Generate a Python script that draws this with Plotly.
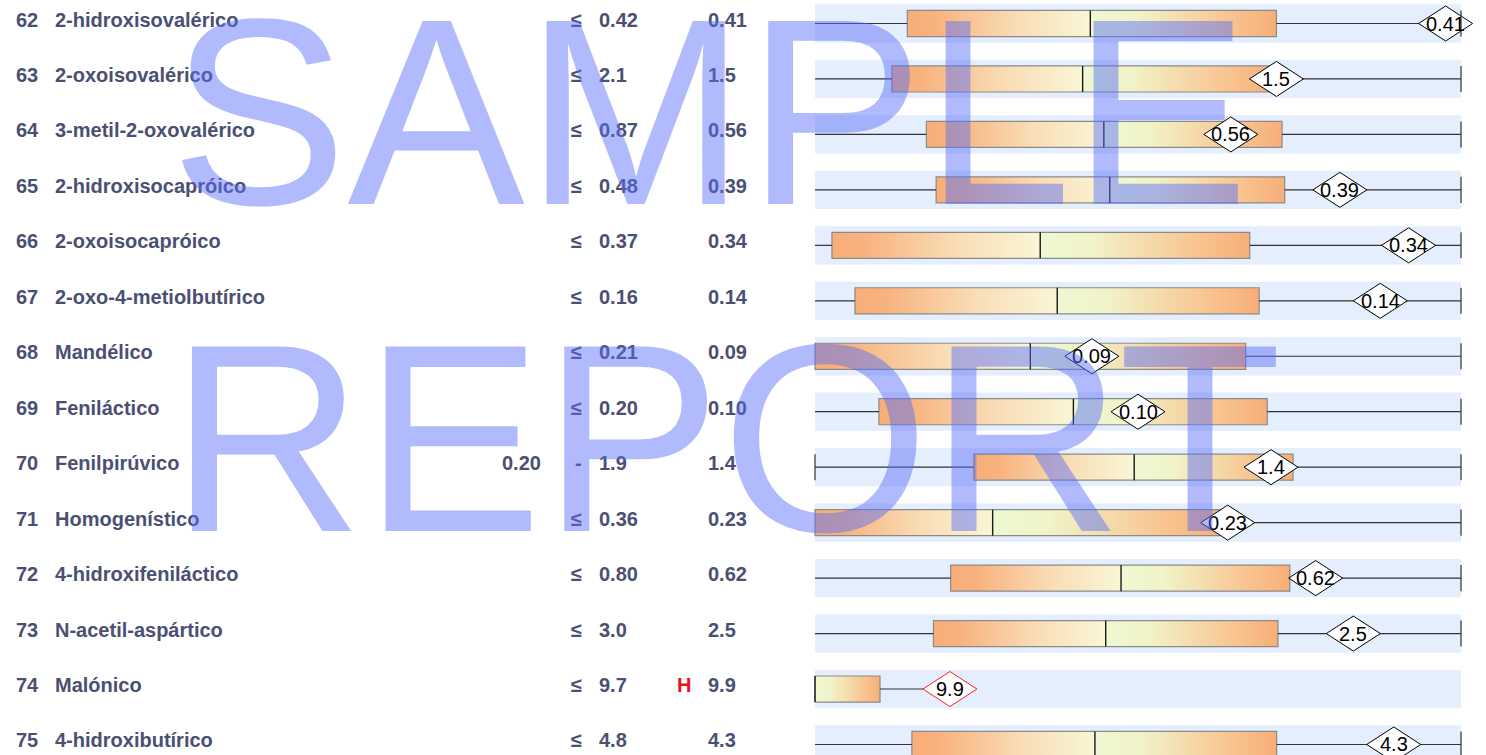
import plotly.graph_objects as go

# ---------------- data ----------------
nums = [62, 63, 64, 65, 66, 67, 68, 69, 70, 71, 72, 73, 74, 75]
names = ["2-hidroxisovalérico", "2-oxoisovalérico", "3-metil-2-oxovalérico",
         "2-hidroxisocapróico", "2-oxoisocapróico", "2-oxo-4-metiolbutírico",
         "Mandélico", "Feniláctico", "Fenilpirúvico", "Homogenístico",
         "4-hidroxifeniláctico", "N-acetil-aspártico", "Malónico", "4-hidroxibutírico"]
ref_low_txt = ["", "", "", "", "", "", "", "", "0.20", "", "", "", "", ""]
ref_high_txt = ["0.42", "2.1", "0.87", "0.48", "0.37", "0.16", "0.21", "0.20",
                "1.9", "0.36", "0.80", "3.0", "9.7", "4.8"]
ref_high = [0.42, 2.1, 0.87, 0.48, 0.37, 0.16, 0.21, 0.20, 1.9, 0.36, 0.80, 3.0, 9.7, 4.8]
flags = ["", "", "", "", "", "", "", "", "", "", "", "", "H", ""]
value_txt = ["0.41", "1.5", "0.56", "0.39", "0.34", "0.14", "0.09", "0.10",
             "1.4", "0.23", "0.62", "2.5", "9.9", "4.3"]
values = [0.41, 1.5, 0.56, 0.39, 0.34, 0.14, 0.09, 0.10, 1.4, 0.23, 0.62, 2.5, 9.9, 4.3]

# population distribution (box = q1..q3, whiskers)
q1 = [0.060, 0.25, 0.150, 0.090, 0.0097, 0.0099, 0.0, 0.0198, 0.618, 0.0, 0.168, 0.55, 3.3, 0.72]
med = [0.179, 0.87, 0.389, 0.219, 0.129, 0.060, 0.070, 0.080, 1.04, 0.099, 0.379, 1.35, 3.3, 2.08]
q3 = [0.300, 1.50, 0.629, 0.349, 0.249, 0.110, 0.140, 0.140, 1.458, 0.227, 0.588, 2.15, 6.48, 3.43]
w_lo = [0, 0, 0, 0, 0, 0, 0, 0, 0.20, 0, 0, 0, 3.3, 0]
w_hi = [0.42, 2.1, 0.87, 0.48, 0.37, 0.16, 0.21, 0.20, 1.9, 0.36, 0.80, 3.0, 9.7, 4.8]

# per-row scale (left edge / right edge of the graphic)
scale_lo = [0, 0, 0, 0, 0, 0, 0, 0, 0.20, 0, 0, 0, 3.3, 0]
scale_hi = [0.42, 2.1, 0.87, 0.48, 0.37, 0.16, 0.21, 0.20, 1.9, 0.36, 0.80, 3.0, 34.9, 4.8]

# ---------------- style ----------------
W, H = 1486, 755
PX0, PX1 = 815, 1461            # graphic left / right (px)
ROW0, ROWH = 23.5, 55.46        # first row centre / row pitch (px)
TXT = "#4B5073"
BAND = "#E4EEFC"
ORANGE = "#F8AE78"
BAND_H = 0.345
BOX_H = 0.235
DIA_W = 27 / (PX1 - PX0)        # half width in scale units
DIA_H = 17.5 / ROWH             # half height in rows
WHISK = dict(color="#333333", width=1.2)

left_cs = [[0, ORANGE], [0.15, "#F8B27E"], [0.6, "#F9DDB6"], [1, "#F9F6D6"]]
right_cs = [[0, "#EEF8D2"], [0.25, "#F1F3C8"], [0.75, "#F8C490"], [1, ORANGE]]


def pos(i, v):
    return (v - scale_lo[i]) / (scale_hi[i] - scale_lo[i])


fig = go.Figure()
shapes = []
caps = []
annotations = []
n = len(nums)

for i in range(n):
    y = i
    # background band
    shapes.append(dict(type="rect", xref="x", yref="y", x0=0, x1=1,
                       y0=y - BAND_H, y1=y + BAND_H, fillcolor=BAND,
                       line=dict(width=0), layer="below"))
    a, m, b = pos(i, q1[i]), pos(i, med[i]), pos(i, q3[i])
    if m - a > 1e-6:
        fig.add_trace(go.Scatter(x=[a, m, m, a, a],
                                 y=[y - BOX_H, y - BOX_H, y + BOX_H, y + BOX_H, y - BOX_H],
                                 mode="lines", fill="toself",
                                 fillgradient=dict(type="horizontal", colorscale=left_cs),
                                 line=dict(width=0, color="rgba(0,0,0,0)"),
                                 hoverinfo="skip", showlegend=False))
    if b - m > 1e-6:
        fig.add_trace(go.Scatter(x=[m, b, b, m, m],
                                 y=[y - BOX_H, y - BOX_H, y + BOX_H, y + BOX_H, y - BOX_H],
                                 mode="lines", fill="toself",
                                 fillgradient=dict(type="horizontal", colorscale=right_cs),
                                 line=dict(width=0, color="rgba(0,0,0,0)"),
                                 hoverinfo="skip", showlegend=False))
    # box outline + median
    shapes.append(dict(type="rect", xref="x", yref="y", x0=a, x1=b,
                       y0=y - BOX_H, y1=y + BOX_H, line=dict(color="#8A8A8A", width=1.2),
                       layer="above"))
    shapes.append(dict(type="line", xref="x", yref="y", x0=m, x1=m,
                       y0=y - BOX_H, y1=y + BOX_H, line=dict(color="#1A1A1A", width=1.4),
                       layer="above"))
    # whiskers
    wl, wh = pos(i, w_lo[i]), pos(i, w_hi[i])
    if a - wl > 1e-6:
        shapes.append(dict(type="line", xref="x", yref="y", x0=wl, x1=a, y0=y, y1=y,
                           line=WHISK, layer="above"))
        if w_lo[i] > 0:
            caps.append(dict(type="line", xref="x", yref="y", x0=wl, x1=wl,
                             y0=y - BOX_H, y1=y + BOX_H, line=WHISK, layer="above"))
    if wh - b > 1e-6:
        shapes.append(dict(type="line", xref="x", yref="y", x0=b, x1=wh, y0=y, y1=y,
                           line=WHISK, layer="above"))
        if not flags[i]:
            caps.append(dict(type="line", xref="x", yref="y", x0=wh, x1=wh,
                             y0=y - BOX_H, y1=y + BOX_H, line=WHISK, layer="above"))
    # result diamond
    v = pos(i, values[i])
    dcol = "#FF2020" if flags[i] else "#000000"
    path = (f"M {v - DIA_W},{y} L {v},{y - DIA_H} L {v + DIA_W},{y} "
            f"L {v},{y + DIA_H} Z")
    shapes.append(dict(type="path", xref="x", yref="y", path=path,
                       fillcolor="white", line=dict(color=dcol, width=1), layer="above"))
    annotations.append(dict(x=v, y=y, xref="x", yref="y", text=value_txt[i],
                            showarrow=False, xanchor="center", yanchor="middle",
                            font=dict(family="Liberation Sans Narrow, Arial Narrow, Liberation Sans",
                                      size=20, color="#000000")))

    # left text columns
    def txt(px, s, anchor="left", color=TXT):
        annotations.append(dict(x=px / W, y=y, xref="paper", yref="y", text=f"<b>{s}</b>",
                                showarrow=False, xanchor=anchor, yanchor="middle", yshift=4,
                                font=dict(family="Liberation Sans, Arial", size=20, color=color)))

    txt(14, str(nums[i]))
    txt(53, names[i])
    if ref_low_txt[i]:
        txt(543, ref_low_txt[i], anchor="right")
        txt(578, "-", anchor="center")
    else:
        txt(576, "≤", anchor="center")
    txt(597, ref_high_txt[i])
    if flags[i]:
        txt(684, flags[i], anchor="center", color="#E8141E")
    txt(706, value_txt[i])

shapes.extend(caps)

# watermark
WM = "rgba(87,108,249,0.47)"
annotations.append(dict(x=168 / W, y=1 - 112 / H, xref="paper", yref="paper", text="SAMPLE",
                        showarrow=False, xanchor="left", yanchor="middle",
                        font=dict(family="Liberation Sans, Arial", size=266, color=WM)))
annotations.append(dict(x=168 / W, y=1 - 438 / H, xref="paper", yref="paper", text="REPORT",
                        showarrow=False, xanchor="left", yanchor="middle",
                        font=dict(family="Liberation Sans, Arial", size=268, color=WM)))

x_min = -PX0 / (PX1 - PX0)
x_max = (W - PX0) / (PX1 - PX0)
y_top = -ROW0 / ROWH
y_bot = (H - ROW0) / ROWH

fig.update_layout(
    width=W, height=H, margin=dict(l=0, r=0, t=0, b=0),
    paper_bgcolor="white", plot_bgcolor="white", showlegend=False,
    xaxis=dict(range=[x_min, x_max], visible=False, fixedrange=True),
    yaxis=dict(range=[y_bot, y_top], visible=False, fixedrange=True),
    shapes=shapes, annotations=annotations,
)

fig.write_html("out.html", config={"displayModeBar": False},
               post_script="document.body.style.margin='0';")
